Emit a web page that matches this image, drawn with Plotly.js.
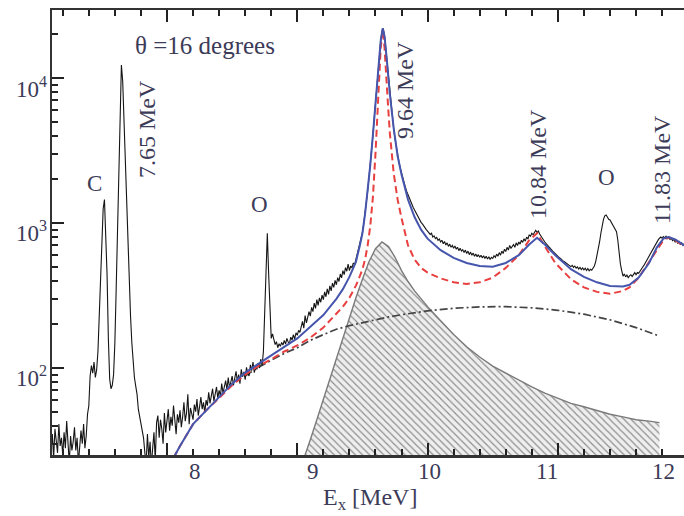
<!DOCTYPE html>
<html>
<head>
<meta charset="utf-8">
<script src="https://cdn.plot.ly/plotly-3.0.1.min.js"></script>
<style>
  html, body { margin: 0; padding: 0; background: #fff; }
  #chart { width: 684px; height: 516px; }
</style>
</head>
<body>
<div id="chart"></div>
<script>
// Measured spectrum: counts per 10 keV bin, first bin at 7.10 MeV
const E_START = 7.10;
const E_STEP = 0.01;
const counts = [
  31, 27, 35, 24, 38, 30, 26, 41, 29, 33,
  25, 36, 28, 43, 30, 22, 34, 27, 31, 39,
  27, 33, 22, 29, 37, 30, 41, 28, 34, 48,
  55, 88, 104, 92, 110, 86, 97, 130, 220, 450,
  800, 1250, 1450, 900, 440, 160, 84, 72, 76, 90,
  150, 350, 800, 1900, 5500, 12300, 9500, 5000, 2500, 1200,
  650, 380, 230, 150, 105, 86, 75, 66, 52, 46,
  41, 37, 33, 26, 22, 35, 24, 31, 21, 28,
  36, 23, 42, 47, 33, 44, 38, 30, 49, 36,
  43, 52, 37, 46, 40, 55, 44, 35, 48, 42,
  51, 39, 46, 58, 43, 49, 66, 41, 53, 47,
  44, 56, 50, 61, 47, 54, 63, 52, 58, 49,
  60, 55, 68, 57, 63, 72, 59, 66, 74, 62,
  70, 64, 78, 67, 75, 82, 71, 86, 73, 80,
  88, 76, 84, 95, 81, 90, 78, 98, 87, 94,
  83, 101, 92, 88, 105, 96, 110, 93, 102, 98,
  108, 100, 115, 104, 130, 250, 600, 850, 450, 220,
  160, 172, 158, 145, 152, 138, 147, 141, 150, 144,
  155, 146, 160, 151, 148, 163, 156, 170, 158, 175,
  168, 182, 176, 195, 210, 188, 230, 205, 220, 245,
  228, 262, 245, 280, 258, 296, 270, 305, 284, 318,
  296, 335, 310, 352, 322, 368, 340, 385, 360, 402,
  375, 420, 395, 445, 418, 470, 440, 492, 465, 520,
  470, 505, 490, 530, 515, 560, 600, 650, 720, 790,
  860, 990, 1160, 1380, 1660, 2050, 2500, 3150, 4000, 5200,
  6800, 8800, 11500, 14500, 18000, 21000, 22000, 19500, 15800, 12300,
  9800, 7700, 6200, 5200, 4450, 3800, 3300, 2950, 2650, 2400,
  2200, 2020, 1880, 1760, 1650, 1560, 1480, 1400, 1350, 1280,
  1230, 1180, 1130, 1090, 1050, 1010, 985, 950, 930, 900,
  880, 860, 835, 850, 800, 815, 780, 795, 760, 775,
  740, 760, 720, 745, 705, 730, 690, 715, 680, 700,
  670, 695, 660, 680, 645, 670, 640, 655, 625, 650,
  615, 640, 605, 630, 600, 620, 590, 612, 585, 605,
  580, 600, 575, 595, 570, 590, 565, 585, 560, 580,
  570, 595, 580, 610, 590, 625, 600, 640, 615, 660,
  635, 680, 650, 700, 670, 690, 710, 680, 730, 700,
  740, 715, 760, 735, 780, 750, 800, 775, 830, 810,
  850, 830, 870, 890, 860, 880, 840, 810, 790, 760,
  740, 720, 700, 690, 665, 655, 640, 625, 612, 600,
  590, 578, 570, 555, 548, 540, 530, 522, 515, 508,
  500, 510, 495, 505, 488, 498, 482, 494, 478, 490,
  475, 488, 470, 485, 468, 480, 472, 490, 505, 540,
  590, 660, 740, 850, 960, 1060, 1120, 1135, 1100, 1060,
  1050, 1010, 970, 930, 900, 870, 760, 620, 520, 470,
  430, 445, 425, 438, 420, 432, 440, 428, 446, 455,
  440, 455, 450, 468, 480, 495, 510, 530, 550, 575,
  590, 610, 640, 665, 690, 720, 745, 765, 785, 800,
  785, 805, 790, 810, 780, 795, 770, 785, 755, 770,
  740, 760, 725, 745, 710, 730, 700, 720, 690, 705
];
const energy = counts.map((_, i) => +(E_START + i * E_STEP).toFixed(2));

// Fit curves (excitation energy in MeV)
const fitE = [
  8.05, 8.10, 8.20, 8.30, 8.40, 8.50, 8.60, 8.70, 8.80, 8.90,
  9.00, 9.10, 9.20, 9.30, 9.35, 9.40, 9.45, 9.48, 9.50, 9.52,
  9.54, 9.56, 9.58, 9.60, 9.62, 9.64, 9.655, 9.67, 9.69, 9.71,
  9.74, 9.77, 9.80, 9.85, 9.90, 9.95, 10.00, 10.10, 10.20, 10.30,
  10.40, 10.50, 10.60, 10.70, 10.78, 10.84, 10.90, 10.98, 11.10, 11.20,
  11.30, 11.40, 11.50, 11.55, 11.62, 11.70, 11.76, 11.81, 11.85, 11.90,
  11.97
];
// full fit (solid blue)
const fitTotal = [
  24, 29, 41, 51, 63, 78, 93, 107, 122, 140,
  160, 192, 232, 300, 350, 425, 540, 700, 850, 1150,
  1650, 2500, 4000, 6800, 11500, 18000, 22000, 19300, 12500, 7800,
  4500, 2900, 2160, 1450, 1100, 900, 780, 650, 575, 530,
  505, 500, 530, 600, 710, 790, 710, 600, 480, 425,
  390, 368, 365, 375, 420, 530, 680, 780, 800, 770,
  700
];
// fit without interference (red dashed)
const fitNoInterf = [
  24, 29, 41, 51, 62, 76, 90, 103, 115, 130,
  143, 162, 190, 235, 265, 305, 370, 430, 480, 560,
  700, 950, 1500, 3000, 7500, 16000, 21500, 16000, 8000, 4200,
  2200, 1450, 1080, 700, 560, 490, 455, 415, 390, 380,
  390, 420, 490, 600, 760, 850, 690, 530, 410, 360,
  335, 325, 340, 360, 420, 540, 650, 760, 800, 760,
  690
];

// Smooth background (dash-dot)
const bgE = [
  8.60, 8.70, 8.80, 8.90, 9.00, 9.10, 9.20, 9.30, 9.40, 9.50,
  9.60, 9.70, 9.80, 9.90, 10.00, 10.20, 10.40, 10.60, 10.80, 11.00,
  11.20, 11.40, 11.60, 11.78
];
const bgCounts = [
  88, 101, 113, 126, 138, 155, 170, 185, 196, 206,
  216, 225, 233, 240, 248, 258, 264, 265, 260, 250,
  235, 215, 190, 166
];

// 9.64 MeV state contribution (hatched)
const peakE = [
  9.03, 9.06, 9.10, 9.15, 9.20, 9.25, 9.30, 9.35, 9.40, 9.45,
  9.50, 9.55, 9.60, 9.65, 9.70, 9.75, 9.80, 9.85, 9.90, 10.00,
  10.10, 10.20, 10.30, 10.40, 10.50, 10.60, 10.70, 10.80, 10.90, 11.00,
  11.10, 11.20, 11.30, 11.40, 11.50, 11.60, 11.70, 11.78
];
const peakCounts = [
  21, 25, 32, 44, 61, 84, 117, 162, 222, 305,
  410, 540, 665, 740, 690, 580, 470, 395, 340, 265,
  212, 170, 140, 119, 103, 92, 82, 74, 67, 62,
  57, 54, 51, 48, 46, 44, 43, 42
];

// Axis label texts
const xTickText = ['8', '9', '10', '11', '12'];
const yTickText = ['10<sup>2</sup>', '10<sup>3</sup>', '10<sup>4</sup>'];
const xTitle = 'E<sub>x</sub> [MeV]';

const LABEL = '#3c3b58';
const SERIF = 'Liberation Serif, Times New Roman, serif';

const traces = [
  {
    x: peakE, y: peakCounts, type: 'scatter', mode: 'lines',
    fill: 'tozeroy',
    fillpattern: { shape: '\\', size: 5, solidity: 0.22, fgcolor: '#8a8a8a', bgcolor: '#eeeeee' },
    line: { color: '#7a7a7a', width: 1.4 },
    hoverinfo: 'skip'
  },
  {
    x: bgE, y: bgCounts, type: 'scatter', mode: 'lines',
    line: { color: '#444444', width: 1.7, dash: '8px,3px,2px,3px' },
    hoverinfo: 'skip'
  },
  {
    x: energy, y: counts, type: 'scatter', mode: 'lines',
    line: { color: '#151515', width: 1.1 },
    hoverinfo: 'skip'
  },
  {
    x: fitE, y: fitNoInterf, type: 'scatter', mode: 'lines',
    line: { color: '#e8403f', width: 2, dash: '7px,4px' },
    hoverinfo: 'skip'
  },
  {
    x: fitE, y: fitTotal, type: 'scatter', mode: 'lines',
    line: { color: '#4656ad', width: 2 },
    hoverinfo: 'skip'
  }
];

const axisLine = '#333333';
const tickCol = '#222222';

function note(text, x, y, opts) {
  opts = opts || {};
  return {
    text: text, xref: 'paper', yref: 'paper', x: x, y: y,
    showarrow: false, textangle: opts.angle || 0,
    xanchor: opts.xanchor || 'center', yanchor: 'middle',
    font: { family: SERIF, size: opts.size || 23, color: LABEL }
  };
}

// printed axis numbers sit slightly off the tick marks, placed in paper units
const xLabelPos = [0.2263, 0.4130, 0.5981, 0.7832, 0.9668];
const yLabelPos = [0.1770, 0.5030, 0.8250];

const tickNotes = xTickText.map((t, i) => note(t, xLabelPos[i], -0.0382))
  .concat(yTickText.map((t, i) => note(t, -0.004, yLabelPos[i], { xanchor: 'right' })));

const layout = {
  width: 684, height: 516,
  margin: { l: 52, r: 0, t: 10, b: 61 },
  paper_bgcolor: '#ffffff', plot_bgcolor: '#ffffff',
  showlegend: false,
  font: { family: SERIF, size: 23, color: LABEL },
  xaxis: {
    range: [7.1174, 11.968],
    showline: true, linecolor: axisLine, linewidth: 2.5, mirror: 'allticks',
    ticks: 'inside', ticklen: 12, tickwidth: 2, tickcolor: tickCol,
    tick0: 0, dtick: 1, showticklabels: false,
    showgrid: false, zeroline: false,
    minor: { dtick: 0.2, ticks: 'inside', ticklen: 6, tickwidth: 2, tickcolor: tickCol, showgrid: false }
  },
  yaxis: {
    type: 'log', range: [1.4, 4.469],
    showline: true, linecolor: axisLine, linewidth: 2.5, mirror: false,
    ticks: 'inside', ticklen: 12, tickwidth: 2, tickcolor: tickCol,
    dtick: 1, showticklabels: false,
    showgrid: false, zeroline: false,
    minor: { dtick: 'D1', ticks: 'inside', ticklen: 6, tickwidth: 2, tickcolor: tickCol, showgrid: false }
  },
  annotations: [
    note('θ =16 degrees', 0.2421, 0.9213, { size: 25 }),
    note('C', 0.068, 0.611),
    note('O', 0.329, 0.5618),
    note('O', 0.878, 0.6247),
    note('7.65 MeV', 0.1503, 0.7326, { angle: -90, size: 24 }),
    note('9.64 MeV', 0.5585, 0.8202, { angle: -90, size: 24 }),
    note('10.84 MeV', 0.769, 0.654, { angle: -90, size: 24 }),
    note('11.83 MeV', 0.9652, 0.6404, { angle: -90, size: 24 }),
    note(xTitle, 0.503, -0.0989, { size: 24 })
  ].concat(tickNotes)
};

Plotly.newPlot('chart', traces, layout, { staticPlot: true, displayModeBar: false });
</script>
</body>
</html>
